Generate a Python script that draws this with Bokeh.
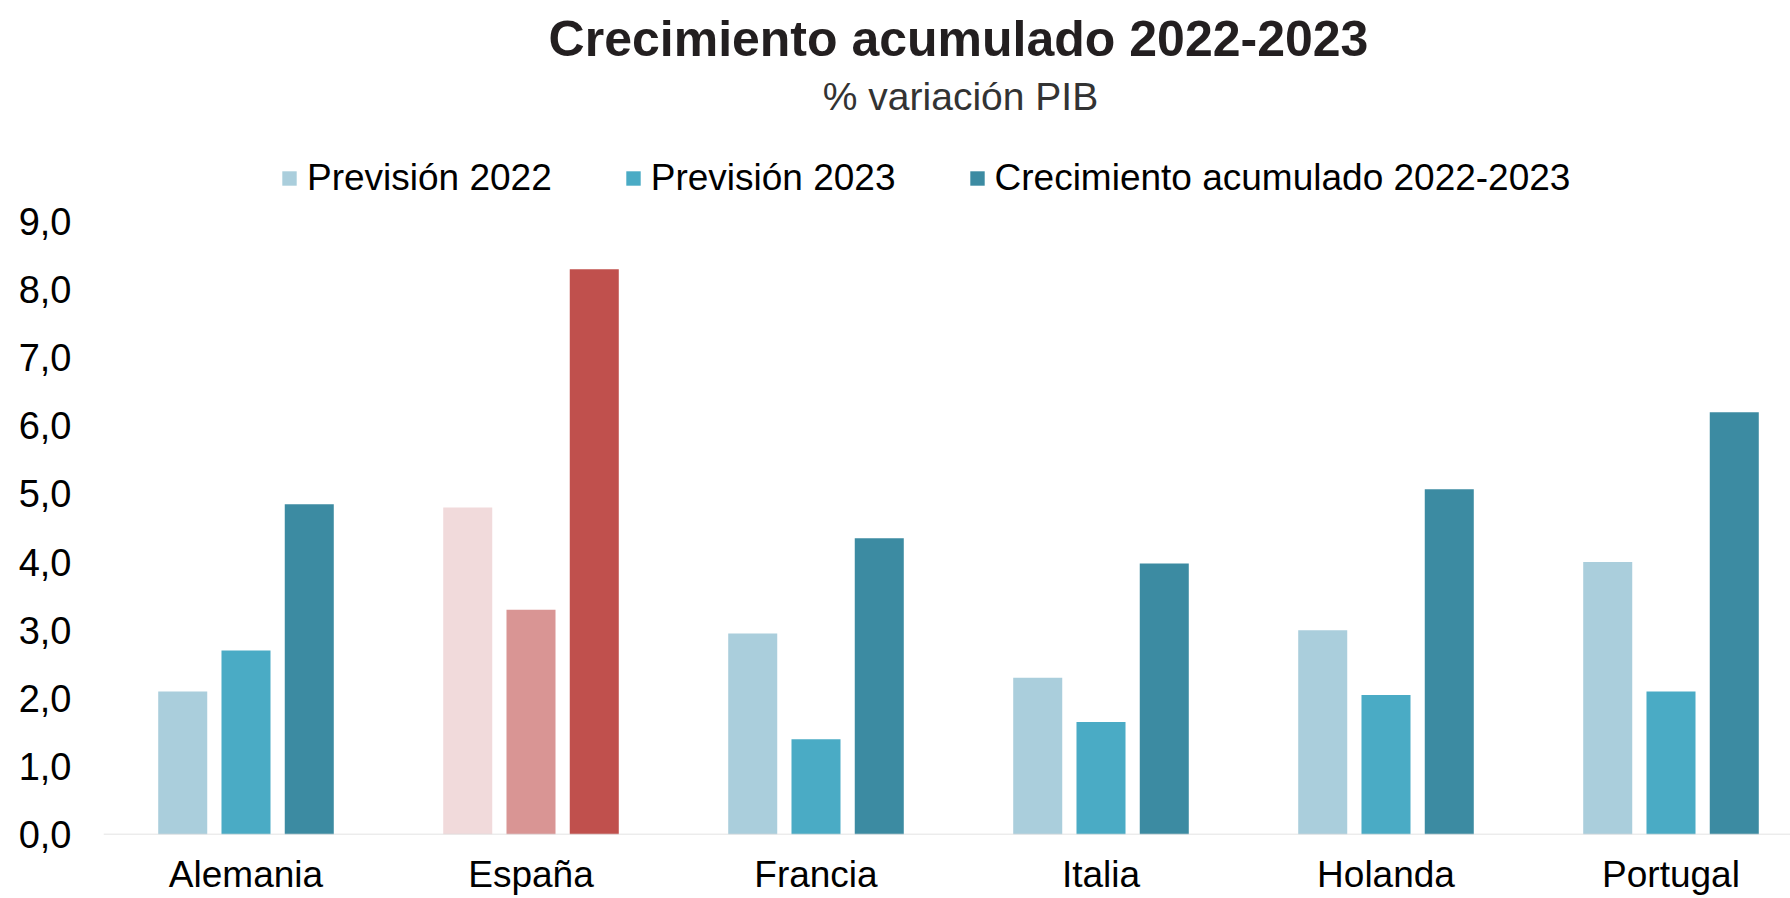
from bokeh.plotting import figure
from bokeh.models import (ColumnDataSource, Range1d, Span, Label, Legend,
                          LegendItem, FixedTicker, CustomJSTickFormatter)
from bokeh.embed import file_html
from bokeh.resources import INLINE

# ---------------- data ----------------
countries = ["Alemania", "España", "Francia", "Italia", "Holanda", "Portugal"]
series_names = ["Previsión 2022", "Previsión 2023", "Crecimiento acumulado 2022-2023"]
prevision_2022 = [2.1, 4.8, 2.95, 2.3, 3.0, 4.0]
prevision_2023 = [2.7, 3.3, 1.4, 1.65, 2.05, 2.1]
acumulado_22_23 = [4.85, 8.3, 4.35, 3.98, 5.07, 6.2]
y_ticks = [0, 1, 2, 3, 4, 5, 6, 7, 8, 9]
title_text = "Crecimiento acumulado 2022-2023"
subtitle_text = "% variación PIB"
highlight_country = "España"

# ---------------- styles ----------------
blue_colors = ["#AACEDC", "#4AABC5", "#3C8BA2"]
red_colors = ["#F1DADB", "#D99594", "#C0504D"]
offsets = [-0.222, 0.0, 0.222]
bar_width = 0.172
FONT = "Liberation Sans"

W, H = 1790, 898
FRAME_TOP, FRAME_BOTTOM, FRAME_LEFT = 0, 834, 103
PX_PER_UNIT = 68.1
y_end = 9 + (221 - FRAME_TOP) / PX_PER_UNIT

p = figure(width=W, height=H, output_backend="svg", toolbar_location=None,
           title=None,
           x_range=Range1d(0, (W - FRAME_LEFT) / 285), y_range=Range1d(0, y_end),
           min_border_left=FRAME_LEFT, min_border_right=0, min_border_top=FRAME_TOP,
           min_border_bottom=H - FRAME_BOTTOM)
p.outline_line_color = None
p.xgrid.visible = False
p.ygrid.visible = False
p.background_fill_color = "white"
p.border_fill_color = "white"

all_series = [prevision_2022, prevision_2023, acumulado_22_23]
renderers = []
for j, vals in enumerate(all_series):
    xs = [i + 0.5 + offsets[j] for i in range(len(countries))]
    cols = [red_colors[j] if c == highlight_country else blue_colors[j] for c in countries]
    src = ColumnDataSource(dict(x=xs, top=vals, color=cols, country=countries))
    r = p.vbar(x="x", top="top", bottom=0, width=bar_width, fill_color="color",
               line_color=None, source=src)
    renderers.append(r)

# baseline
p.add_layout(Span(location=0, dimension="width", line_color="#D9D9D9", line_width=1.5))

# y axis
yax = p.yaxis[0]
yax.ticker = FixedTicker(ticks=y_ticks)
yax.formatter = CustomJSTickFormatter(code="return tick.toFixed(1).replace('.', ',');")
yax.axis_line_color = None
yax.major_tick_line_color = None
yax.minor_tick_line_color = None
yax.major_label_standoff = 26
yax.major_label_text_font = FONT
yax.major_label_text_font_size = "38px"
yax.major_label_text_color = "#000000"

# x axis (category names at group centres)
xax = p.xaxis[0]
xax.ticker = FixedTicker(ticks=[i + 0.5 for i in range(len(countries))])
xax.formatter = CustomJSTickFormatter(args=dict(names=countries),
                                      code="return names[Math.floor(tick)];")
xax.axis_line_color = None
xax.major_tick_line_color = None
xax.minor_tick_line_color = None
xax.major_label_standoff = 13
xax.major_label_text_font = FONT
xax.major_label_text_font_size = "37px"
xax.major_label_text_color = "#000000"

# legend inside the (extended) frame, above the 9,0 level
items = [LegendItem(label=n, renderers=[r], index=0) for n, r in zip(series_names, renderers)]
legend = Legend(items=items, orientation="horizontal", location=(177, 635),
                glyph_width=18, glyph_height=18, label_standoff=9, spacing=72,
                padding=0, margin=0, border_line_color=None, background_fill_alpha=0,
                label_text_font=FONT, label_text_font_size="37px",
                label_text_color="#000000")
p.add_layout(legend, "center")

# title and subtitle (screen units, relative to the frame's bottom-left)
p.add_layout(Label(x=855, y=796, x_units="screen", y_units="screen", text=title_text,
                   text_align="center", text_baseline="alphabetic", text_font=FONT,
                   text_font_size="50px", text_font_style="bold", text_color="#231F20"))
p.add_layout(Label(x=857, y=738, x_units="screen", y_units="screen", text=subtitle_text,
                   text_align="center", text_baseline="alphabetic", text_font=FONT,
                   text_font_size="39px", text_color="#333333"))

open("out.html", "w").write(file_html(p, INLINE))
